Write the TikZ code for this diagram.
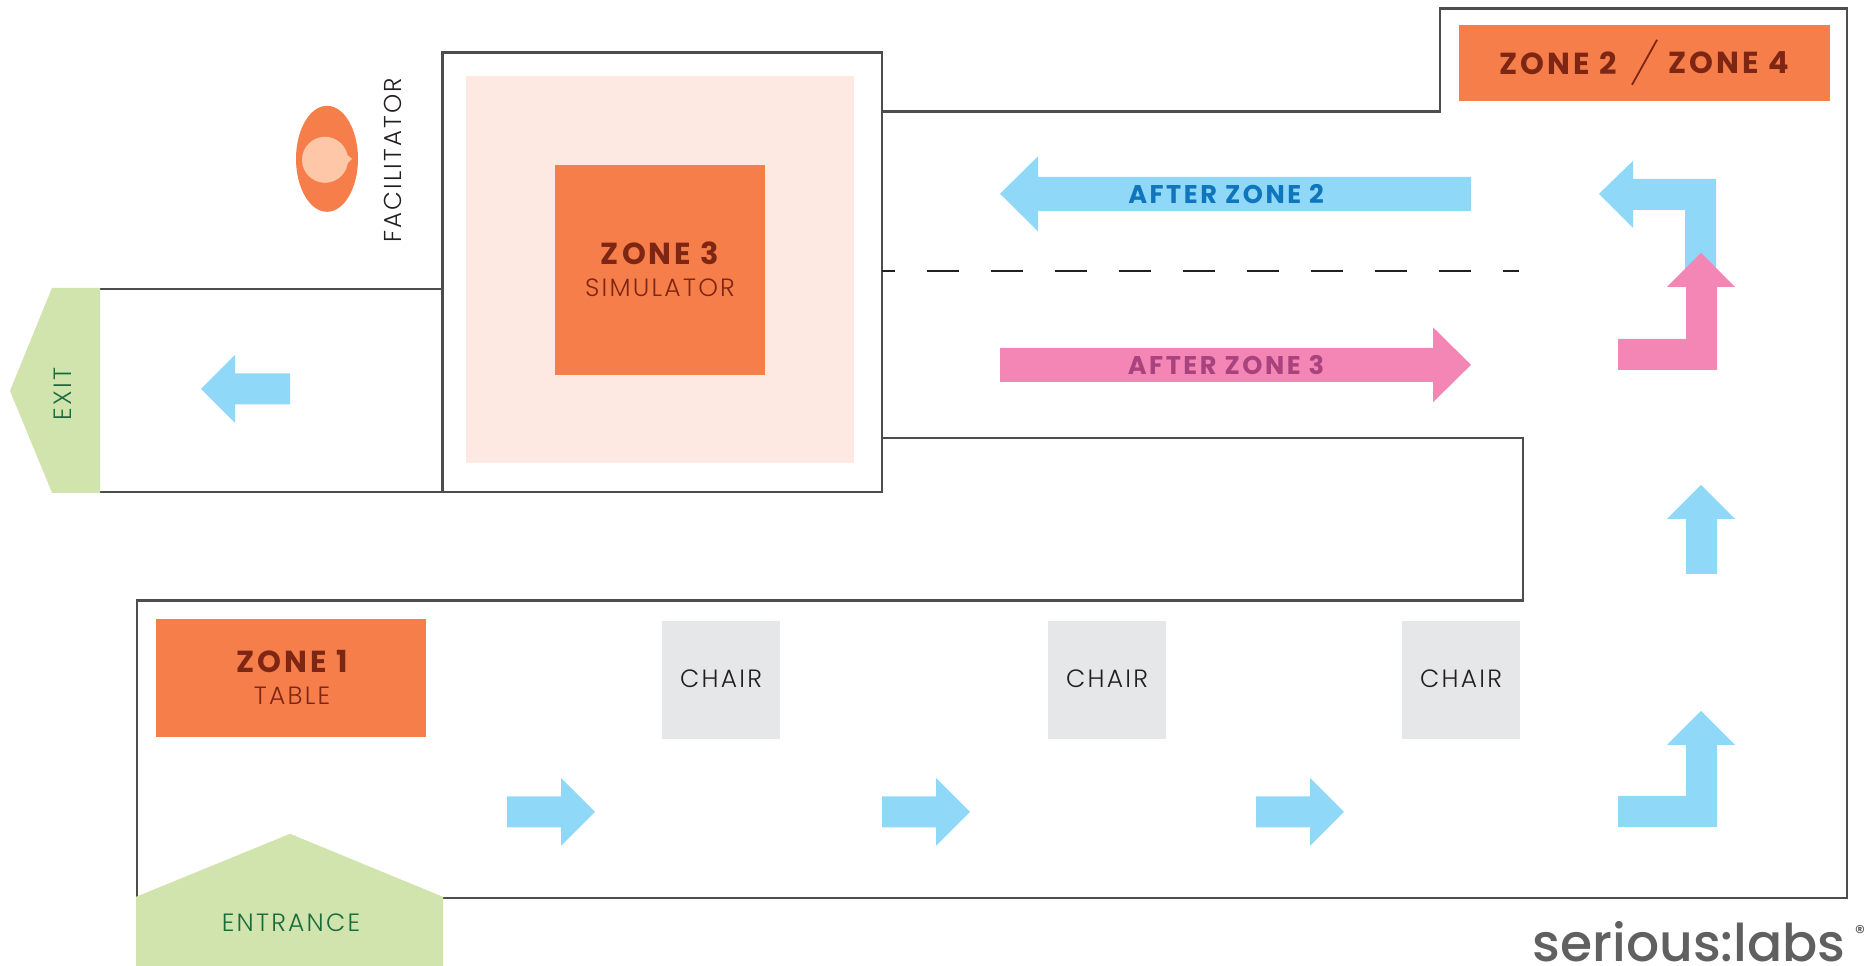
\documentclass[tikz,border=0pt]{standalone}
\usepackage{fontspec}
\setmainfont{Poppins}
\newfontfamily\ls[LetterSpace=9]{Poppins Light}
\newfontfamily\lsb[LetterSpace=10]{Poppins}
\newfontfamily\logofont{Poppins Medium}
\definecolor{wall}{HTML}{4D4D4D}
\definecolor{zoneor}{HTML}{F67E4A}
\definecolor{zonetx}{HTML}{7D2613}
\definecolor{zonelt}{HTML}{FDE9E2}
\definecolor{grn}{HTML}{D1E4AE}
\definecolor{grntx}{HTML}{1A6B3C}
\definecolor{sky}{HTML}{8FD8F8}
\definecolor{pnk}{HTML}{F386B4}
\definecolor{chairc}{HTML}{E6E7E8}
\definecolor{facin}{HTML}{FDC7A8}
\definecolor{skytx}{HTML}{0F75BC}
\definecolor{pnktx}{HTML}{A8437F}
\definecolor{txt}{HTML}{231F20}
\definecolor{logoc}{HTML}{606060}
\tikzset{
  wallline/.style={draw=wall,line width=1.2pt,line join=miter},
  skyarrow/.style={fill=sky},
  pnkarrow/.style={fill=pnk},
  lbl/.style={inner sep=0pt,anchor=center,align=center},
  zonebig/.style={lbl,text=zonetx,font=\lsb\fontsize{15.2}{17}\selectfont\bfseries},
  zonesmall/.style={lbl,text=zonetx,font=\ls\fontsize{12.5}{14}\selectfont},
  chairlbl/.style={lbl,text=txt,font=\ls\fontsize{12.5}{14}\selectfont},
  grnlbl/.style={lbl,text=grntx,font=\ls\fontsize{12.5}{14}\selectfont},
  aftersky/.style={lbl,text=skytx,font=\lsb\fontsize{12.8}{14}\selectfont\bfseries},
  afterpnk/.style={lbl,text=pnktx,font=\lsb\fontsize{12.8}{14}\selectfont\bfseries},
}
\begin{document}
\begin{tikzpicture}[x=0.5pt,y=-0.5pt]
\useasboundingbox (0,0) rectangle (1866,965);
\begin{scope}[yshift=-0.4pt]
% zones and chairs
\fill[zonelt] (465.5,75) rectangle (854,462);
\fill[zoneor] (555,164) rectangle (765,374);
\fill[zoneor] (156,618) rectangle (426,736);
\fill[zoneor] (1459,24) rectangle (1830,100);
\fill[chairc] (662,620) rectangle (780,738);
\fill[chairc] (1048,620) rectangle (1166,738);
\fill[chairc] (1402,620) rectangle (1520,738);
% walls
\draw[wallline] (443,897) -- (1847,897) -- (1847,7.5) -- (1440,7.5) -- (1440,110.5) -- (882,110.5);
\draw[wallline] (442.5,51.5) rectangle (882,491);
\draw[wallline] (882,437) -- (1523,437) -- (1523,599.5) -- (137,599.5) -- (137,897);
\draw[wallline] (100,288) -- (442.5,288);
\draw[wallline] (100,491) -- (442.5,491);
\draw[draw=txt,line width=1.2pt,dash pattern=on 16pt off 16pt,dash phase=9.5pt] (882,270) -- (1519,270);
% entrance and exit
\fill[grn] (136,896) -- (290,833) -- (443,896) -- (443,967) -- (136,967) -- cycle;
\fill[grn] (100,287) -- (52,287) -- (10,390) -- (52,492) -- (100,492) -- cycle;
% facilitator
\fill[zoneor] (327,158) ellipse [x radius=31,y radius=53];
\fill[facin] (325,159) circle (23);
\fill[facin] (346,153) -- (352,158) -- (346,164) -- cycle;
% arrows
\foreach \s in {0,375,749} {
  \fill[skyarrow] (507+\s,795.5) -- (561+\s,795.5) -- (561+\s,777) -- (595+\s,811) -- (561+\s,845) -- (561+\s,826.5) -- (507+\s,826.5) -- cycle;
}
\fill[skyarrow] (290,372.5) -- (235,372.5) -- (235,354) -- (201,388) -- (235,422) -- (235,403.5) -- (290,403.5) -- cycle;
\fill[skyarrow] (1471,176) -- (1038,176) -- (1038,155.5) -- (1000,193) -- (1038,230.5) -- (1038,210) -- (1471,210) -- cycle;
\fill[pnkarrow] (1000,347) -- (1433,347) -- (1433,326.5) -- (1471,364) -- (1433,401.5) -- (1433,381) -- (1000,381) -- cycle;
\fill[skyarrow] (1599,193) -- (1633,160) -- (1633,178) -- (1716,178) -- (1716,286) -- (1685,286) -- (1685,209) -- (1633,209) -- (1633,227) -- cycle;
\fill[pnkarrow] (1701,252) -- (1735,286) -- (1717,286) -- (1717,369) -- (1618,369) -- (1618,338) -- (1686,338) -- (1686,286) -- (1667,286) -- cycle;
\fill[skyarrow] (1701,484) -- (1735,518) -- (1717,518) -- (1717,573) -- (1686,573) -- (1686,518) -- (1667,518) -- cycle;
\fill[skyarrow] (1701,710) -- (1735,744) -- (1717,744) -- (1717,826) -- (1618,826) -- (1618,795) -- (1686,795) -- (1686,744) -- (1667,744) -- cycle;
% slash
\draw[zonetx,line width=0.9pt] (1632,84) -- (1657,39);
% labels
\node[zonebig] (z2) at (1558,62) {ZONE 2};
\node[zonebig] (z4) at (1729,62) {ZONE 4};
\node[zonebig] (z1) at (292,661) {ZONE 1};
\node[zonesmall] (z1s) at (292,695) {TABLE};
\node[zonebig] (z3) at (660,252) {ZONE 3};
\node[zonesmall] (z3s) at (660,287) {SIMULATOR};
\node[aftersky] (a2) at (1226,193) {AFTER ZONE 2};
\node[afterpnk] (a3) at (1226,364) {AFTER ZONE 3};
\node[chairlbl] (c1) at (721,678) {CHAIR};
\node[chairlbl] (c2) at (1107,678) {CHAIR};
\node[chairlbl] (c3) at (1461,678) {CHAIR};
\node[grnlbl] (ent) at (291,922) {ENTRANCE};
\node[grnlbl,rotate=90] (ext) at (63,393) {EXIT};
\node[chairlbl,rotate=90,font=\ls\fontsize{12.2}{14}\selectfont] (fac) at (393,159.5) {FACILITATOR};
\node[inner sep=0pt,anchor=base,text=logoc,font=\logofont\fontsize{26}{28}\selectfont] (logo) at (1689,961) {serious:labs};
\node[inner sep=0pt,text=logoc,font=\logofont\fontsize{10}{11}\selectfont] (reg) at (1860,932) {®};
\end{scope}
\end{tikzpicture}
\end{document}
